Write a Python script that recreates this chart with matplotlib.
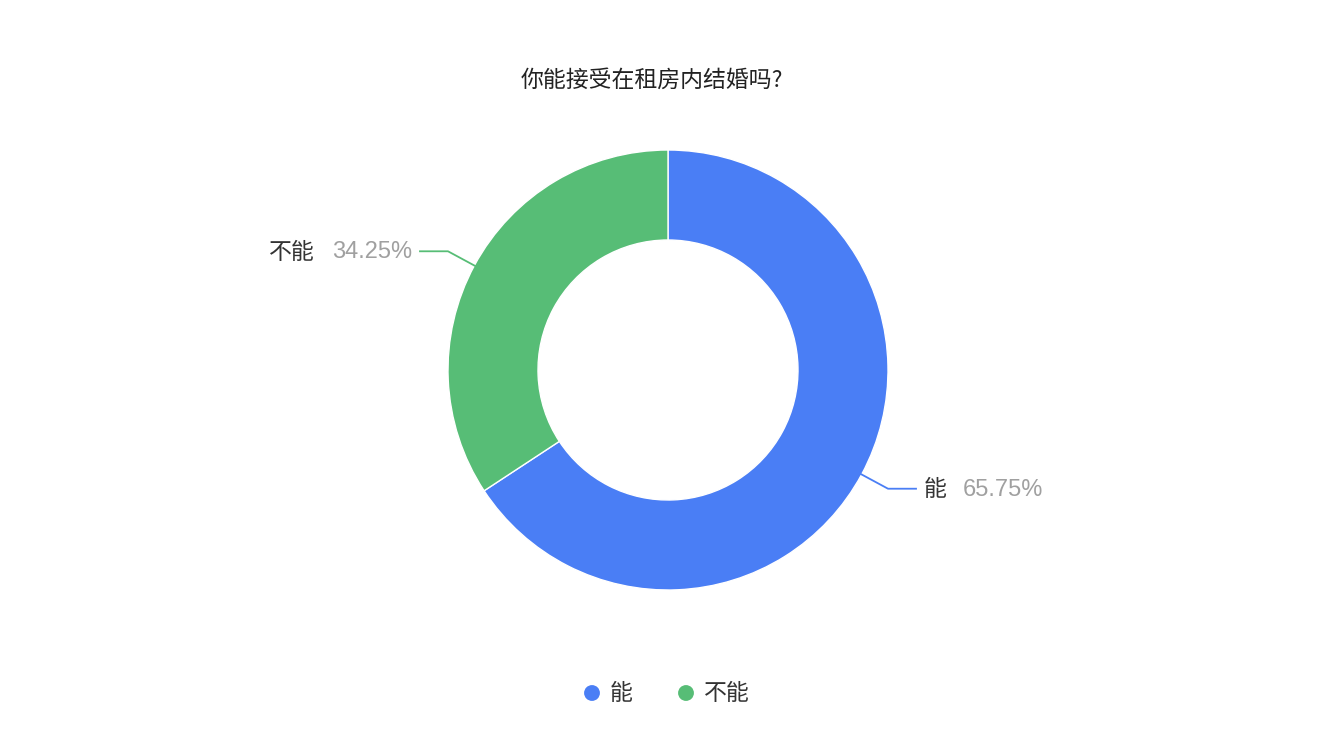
import numpy as np
import matplotlib.pyplot as plt

plt.rcParams['font.family'] = ['Noto Sans CJK SC', 'DejaVu Sans']

# 数据
categories = ['能', '不能']
values = [65.75, 34.25]
colors = ['#4a7ef5', '#57bd76']
title = '你能接受在租房内结婚吗?'

W, H = 1322, 738
fig = plt.figure(figsize=(W / 100, H / 100), dpi=100)
ax = fig.add_axes([0, 0, 1, 1])
ax.set_xlim(0, W)
ax.set_ylim(0, H)
ax.set_aspect('equal')
ax.axis('off')

cx, cy = 668, H - 370
r_out, r_w = 220, 90

wedges, _ = ax.pie(values, colors=colors, startangle=90, counterclock=False,
                   center=(cx, cy), radius=r_out,
                   wedgeprops=dict(width=r_w, edgecolor='white', linewidth=1))
ax.set_xlim(0, W)
ax.set_ylim(0, H)

pct_font = ['Liberation Sans', 'DejaVu Sans']

# 引导线和标签
for w, cat, val, col in zip(wedges, categories, values, colors):
    mid = np.deg2rad((w.theta1 + w.theta2) / 2)
    x0 = cx + (r_out - 2) * np.cos(mid)
    y0 = cy + (r_out - 2) * np.sin(mid)
    x1 = cx + (r_out + 30) * np.cos(mid)
    y1 = cy + (r_out + 30) * np.sin(mid)
    side = 1 if np.cos(mid) > 0 else -1
    x2 = x1 + side * 28
    ax.plot([x0, x1, x2], [y0, y1, y1], color=col, lw=1.3)
    pct = f'{val:.2f}%'
    ty = y1 - 1
    if side > 0:
        ax.text(x2 + 8, ty, cat, fontsize=16.5, color='#333333', ha='left', va='center')
        ax.text(x2 + 47, ty, pct, fontsize=17, color='#a0a0a0', ha='left', va='center',
                family=pct_font)
    else:
        ax.text(x2 - 8, ty, pct, fontsize=17, color='#a0a0a0', ha='right', va='center',
                family=pct_font)
        ax.text(x2 - 105, ty, cat, fontsize=16.5, color='#333333', ha='right', va='center')

ax.text(652, H - 80, title, fontsize=16.5, color='#222222', ha='center', va='center')

# 图例
leg_x = [592, 686]
for lx, cat, col in zip(leg_x, categories, colors):
    ax.scatter([lx], [H - 693], s=130, color=col, edgecolors='none')
    ax.text(lx + 18, H - 693, cat, fontsize=16.5, color='#333333', ha='left', va='center')

fig.savefig('out.png', dpi=100, facecolor='white')
